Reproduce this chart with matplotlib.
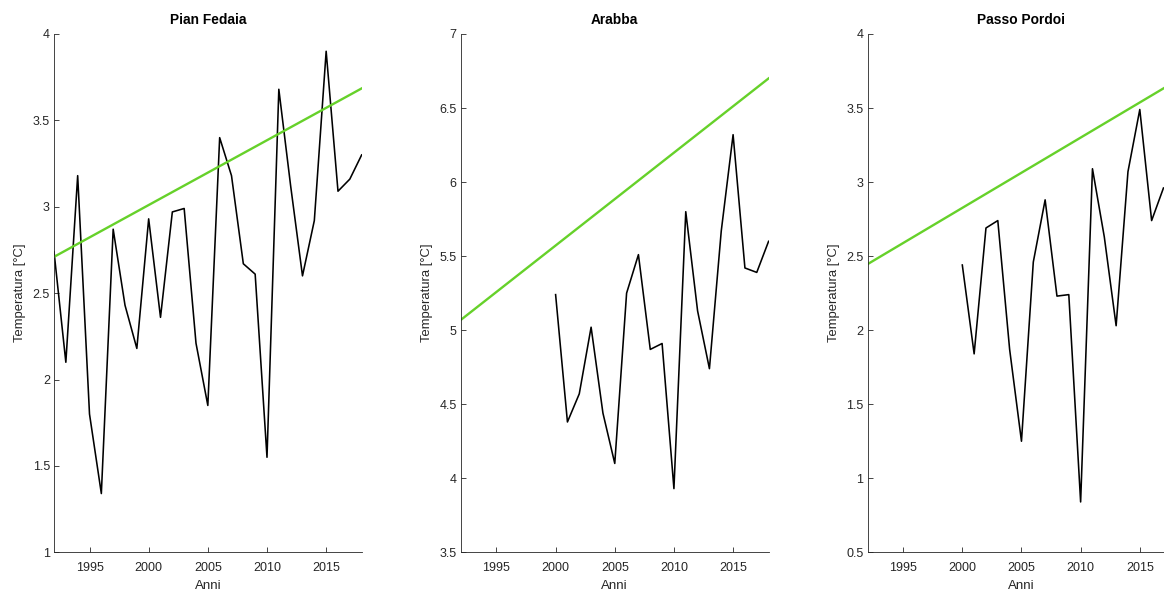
import matplotlib.pyplot as plt
from matplotlib.ticker import FuncFormatter

plt.rcParams['font.family'] = ['Liberation Sans', 'DejaVu Sans']

# Pian Fedaia (1992-2018)
anni_fedaia = list(range(1992, 2019))
temp_fedaia = [2.74, 2.10, 3.18, 1.80, 1.34, 2.87, 2.43, 2.18, 2.93, 2.36,
               2.97, 2.99, 2.21, 1.85, 3.40, 3.18, 2.67, 2.61, 1.55, 3.68,
               3.12, 2.60, 2.92, 3.90, 3.09, 3.16, 3.30]
trend_fedaia = [2.71, 3.685]

# Arabba (2000-2018)
anni_arabba = list(range(2000, 2019))
temp_arabba = [5.24, 4.38, 4.57, 5.02, 4.44, 4.10, 5.25, 5.51, 4.87, 4.91,
               3.93, 5.80, 5.13, 4.74, 5.67, 6.32, 5.42, 5.39, 5.60]
trend_arabba = [5.07, 6.70]

# Passo Pordoi (2000-2017 visibili)
anni_pordoi = list(range(2000, 2018))
temp_pordoi = [2.44, 1.84, 2.69, 2.74, 1.87, 1.25, 2.46, 2.88, 2.23, 2.24,
               0.84, 3.09, 2.63, 2.03, 3.07, 3.49, 2.74, 2.96]
trend_pordoi = [2.446, 3.68]

anni_trend = [1992, 2018]
titoli = ['Pian Fedaia', 'Arabba', 'Passo Pordoi']
limiti_y = [(1, 4), (3.5, 7), (0.5, 4)]
xticks = [1995, 2000, 2005, 2010, 2015]

serie = [(anni_fedaia, temp_fedaia, trend_fedaia),
         (anni_arabba, temp_arabba, trend_arabba),
         (anni_pordoi, temp_pordoi, trend_pordoi)]

fig = plt.figure(figsize=(11.64, 5.9), dpi=100)
sinistra = [0.0464, 0.3960, 0.7454]
grigio = '#262626'

for i, (anni, temp, trend) in enumerate(serie):
    ax = fig.add_axes([sinistra[i], 0.0639, 0.2643, 0.8785])
    ax.plot(anni, temp, color='black', linewidth=1.15)
    ax.plot(anni_trend, trend, color='#66D12A', linewidth=1.7)
    ax.set_xlim(1992, 2018)
    ax.set_ylim(*limiti_y[i])
    ax.set_xticks(xticks)
    ax.yaxis.set_major_locator(plt.MultipleLocator(0.5))
    ax.yaxis.set_major_formatter(FuncFormatter(lambda v, p: f'{v:g}'))
    for s in ['top', 'right']:
        ax.spines[s].set_visible(False)
    for s in ['left', 'bottom']:
        ax.spines[s].set_color(grigio)
        ax.spines[s].set_linewidth(0.6)
    ax.tick_params(direction='in', length=3.7, width=0.6, color=grigio,
                   labelcolor=grigio, labelsize=9)
    ax.tick_params(axis='x', pad=7)
    ax.tick_params(axis='y', pad=3)
    ax.set_title(titoli[i], fontsize=9.9, fontweight='bold', pad=7)
    ax.set_xlabel('Anni', fontsize=9.5, color=grigio, labelpad=4)
    ax.set_ylabel('Temperatura [°C]', fontsize=9.4, color=grigio, labelpad=4.6)

fig.savefig('out.png', dpi=100)
